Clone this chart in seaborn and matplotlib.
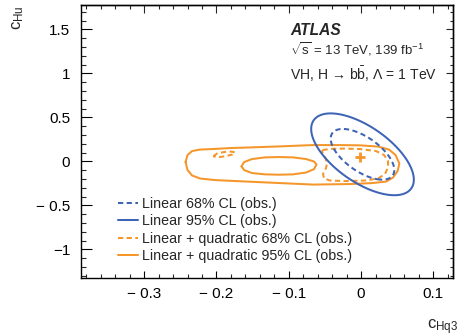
import numpy as np
import matplotlib
matplotlib.use("Agg")
import matplotlib.pyplot as plt
import seaborn as sns
from matplotlib.ticker import MultipleLocator, FixedLocator, NullFormatter
from matplotlib.lines import Line2D

# ---------------- data ----------------
# Linear model: Gaussian likelihood (centre, widths, correlation)
lin_center = (0.002, 0.08)
lin_sigma = (0.029, 0.19)
lin_rho = -0.62
lin_levels_68 = [2.30]
lin_levels_95 = [5.99]

# Linear + quadratic best-fit point
quad_best_x = [-0.002]
quad_best_y = [0.055]

# Linear + quadratic 95% CL: outer boundary
quad95_outer_x = [-0.2427, -0.2400, -0.2337, -0.2227, -0.2047, -0.1812, -0.1577,
                  -0.1120, -0.0664, -0.0290, -0.0014, 0.0235, 0.0387, 0.0477,
                  0.0530, 0.0505, 0.0443, 0.0346, 0.0152, -0.0152, -0.0664,
                  -0.1120, -0.1577, -0.2019, -0.2227, -0.2337, -0.2400]
quad95_outer_y = [-0.008, 0.072, 0.117, 0.134, 0.140, 0.151, 0.157,
                  0.170, 0.185, 0.185, 0.182, 0.168, 0.134, 0.072,
                  -0.025, -0.110, -0.184, -0.230, -0.247, -0.258, -0.264,
                  -0.247, -0.230, -0.213, -0.195, -0.161, -0.099]
# Linear + quadratic 95% CL: inner boundary (excluded hole)
quad95_inner_x = [-0.1653, -0.1618, -0.1508, -0.1328, -0.1134, -0.0941, -0.0761,
                  -0.0650, -0.0616, -0.0650, -0.0761, -0.0941, -0.1134, -0.1328,
                  -0.1508, -0.1618]
quad95_inner_y = [-0.057, -0.008, 0.026, 0.045, 0.049, 0.045, 0.026,
                  -0.002, -0.036, -0.088, -0.127, -0.148, -0.152, -0.148,
                  -0.133, -0.099]
# Linear + quadratic 68% CL: main island
quad68_main_x = [-0.0533, -0.0429, -0.0249, -0.0014, 0.0207, 0.0318, 0.0373,
                 0.0373, 0.0332, 0.0235, 0.0055, -0.0221, -0.0429, -0.0512,
                 -0.0526, -0.0484, -0.0470, -0.0498, -0.0539]
quad68_main_y = [0.128, 0.142, 0.145, 0.140, 0.117, 0.072, 0.003,
                 -0.065, -0.144, -0.195, -0.218, -0.224, -0.218, -0.195,
                 -0.144, -0.076, -0.019, 0.049, 0.106]
# Linear + quadratic 68% CL: small secondary island
quad68_small_x = [-0.2043, -0.1992, -0.1895, -0.1798, -0.1743, -0.1784, -0.1881, -0.1978]
quad68_small_y = [0.057, 0.089, 0.106, 0.111, 0.102, 0.077, 0.057, 0.047]

x_ticks = [-0.3, -0.2, -0.1, 0.0, 0.1]
x_ticklabels = ["\u2212 0.3", "\u2212 0.2", "\u2212 0.1", "0", "0.1"]
y_ticks = [-1.0, -0.5, 0.0, 0.5, 1.0, 1.5]
y_ticklabels = ["\u22121", "\u2212 0.5", "0", "0.5", "1", "1.5"]

legend_labels = ["Linear 68% CL (obs.)",
                 "Linear 95% CL (obs.)",
                 "Linear + quadratic 68% CL (obs.)",
                 "Linear + quadratic 95% CL (obs.)"]

# ---------------- style ----------------
sns.set_theme(style="ticks")
plt.rcParams["font.family"] = ["Liberation Sans", "DejaVu Sans"]
plt.rcParams["mathtext.fontset"] = "custom"
plt.rcParams["mathtext.rm"] = "Liberation Sans"
plt.rcParams["mathtext.it"] = "Liberation Sans:italic"
plt.rcParams["mathtext.bf"] = "Liberation Sans:bold"
plt.rcParams["axes.unicode_minus"] = True

BLUE = "#3E64B6"
ORANGE = "#F5962A"
LW = 1.45
DASH = (0, (2.6, 1.7))

fig = plt.figure(figsize=(4.59, 3.36), dpi=100)
ax = fig.add_axes([0.1765, 0.1726, 0.8105, 0.8125])
ax.set_facecolor("white")

xlim = (-0.3873, 0.1272)
ylim = (-1.326, 1.777)


def closed(a):
    return list(a) + [a[0]]


# orange (linear + quadratic) contours
for xs, ys, ls in [(quad95_outer_x, quad95_outer_y, "-"),
                   (quad95_inner_x, quad95_inner_y, "-"),
                   (quad68_main_x, quad68_main_y, DASH),
                   (quad68_small_x, quad68_small_y, DASH)]:
    sns.lineplot(x=closed(xs), y=closed(ys), sort=False, estimator=None,
                 color=ORANGE, lw=LW, linestyle=ls, ax=ax, zorder=2)

# blue (linear) contours from Gaussian chi2
gx = np.linspace(xlim[0], xlim[1], 500)
gy = np.linspace(ylim[0], ylim[1], 500)
X, Y = np.meshgrid(gx, gy)
dx = (X - lin_center[0]) / lin_sigma[0]
dy = (Y - lin_center[1]) / lin_sigma[1]
chi2 = (dx ** 2 - 2 * lin_rho * dx * dy + dy ** 2) / (1 - lin_rho ** 2)
cs68 = ax.contour(X, Y, chi2, levels=lin_levels_68, colors=[BLUE], linewidths=LW, zorder=3)
cs68.set_linestyle(DASH)
cs95 = ax.contour(X, Y, chi2, levels=lin_levels_95, colors=[BLUE], linewidths=LW, zorder=3)

# best fit marker
ax.plot(quad_best_x, quad_best_y, marker="+", ms=6.5, mew=2.0, color=ORANGE,
        ls="none", zorder=5)

ax.set_xlim(*xlim)
ax.set_ylim(*ylim)

# ticks
ax.xaxis.set_major_locator(FixedLocator(x_ticks))
ax.set_xticklabels(x_ticklabels)
ax.yaxis.set_major_locator(FixedLocator(y_ticks))
ax.set_yticklabels(y_ticklabels)
ax.xaxis.set_minor_locator(MultipleLocator(0.02))
ax.yaxis.set_minor_locator(MultipleLocator(0.1))
ax.tick_params(axis="x", which="major", direction="in", length=5.3, width=0.8,
               labelsize=11, pad=6.3, colors="black")
ax.tick_params(axis="x", which="minor", direction="in", length=2.6, width=0.8)
ax.tick_params(axis="y", which="major", direction="in", length=7.9, width=0.8,
               labelsize=11, pad=7.8, colors="black")
ax.tick_params(axis="y", which="minor", direction="in", length=3.8, width=0.8)

secx = ax.secondary_xaxis("top")
secx.xaxis.set_major_locator(FixedLocator(x_ticks))
secx.xaxis.set_minor_locator(MultipleLocator(0.02))
secx.xaxis.set_major_formatter(NullFormatter())
secx.tick_params(which="major", direction="in", length=5.8, width=0.8)
secx.tick_params(which="minor", direction="in", length=2.7, width=0.8)

secy = ax.secondary_yaxis("right")
secy.yaxis.set_major_locator(FixedLocator(y_ticks))
secy.yaxis.set_minor_locator(MultipleLocator(0.1))
secy.yaxis.set_major_formatter(NullFormatter())
secy.tick_params(which="major", direction="in", length=4.7, width=0.8)
secy.tick_params(which="minor", direction="in", length=2.5, width=0.8)

for s in ax.spines.values():
    s.set_linewidth(1.0)
    s.set_color("black")
for s in list(secx.spines.values()) + list(secy.spines.values()):
    s.set_linewidth(1.0)

# axis labels
ax.set_xlabel(r"$\mathrm{c}_{\mathrm{Hq3}}$", fontsize=12, loc="right")
ax.xaxis.set_label_coords(1.013, -0.143)
ax.set_ylabel(r"$\mathrm{c}_{\mathrm{Hu}}$", fontsize=12, loc="top")
ax.yaxis.set_label_coords(-0.148, 1.0)

# annotation
ax.text(0.562, 0.908, "ATLAS", transform=ax.transAxes, fontsize=11.2,
        fontweight="bold", fontstyle="italic", ha="left", va="center")
ax.text(0.562, 0.839, r"$\sqrt{\mathrm{s}}$ = 13 TeV, 139 fb$^{\mathrm{-1}}$",
        transform=ax.transAxes, fontsize=9.5, ha="left", va="center")
ax.text(0.562, 0.747, "VH, H \u2192 b$\\bar{\\mathrm{b}}$, \u039b = 1 TeV",
        transform=ax.transAxes, fontsize=10.1, ha="left", va="center")

# legend
handles = [Line2D([], [], color=BLUE, lw=LW, linestyle=DASH),
           Line2D([], [], color=BLUE, lw=LW),
           Line2D([], [], color=ORANGE, lw=LW, linestyle=DASH),
           Line2D([], [], color=ORANGE, lw=LW)]
ax.legend(handles=handles, labels=legend_labels, loc="lower left",
          bbox_to_anchor=(0.0995, 0.055), frameon=False, borderpad=0,
          borderaxespad=0, handlelength=1.4, handletextpad=0.3,
          labelspacing=0.23, fontsize=10.3)

fig.savefig("out.png", dpi=100, facecolor="white")
